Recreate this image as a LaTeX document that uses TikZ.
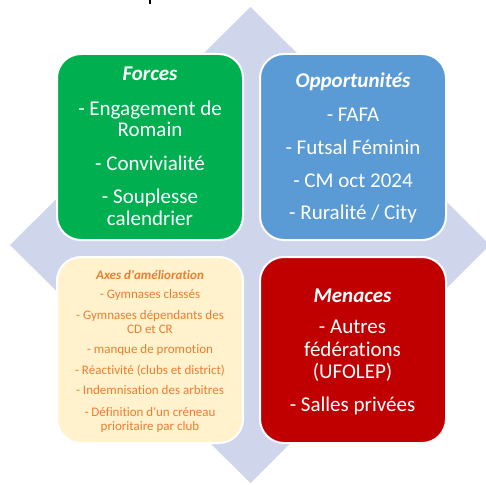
\documentclass[tikz,border=0pt]{standalone}
\usepackage{fontspec}
\setmainfont{Carlito}[Ligatures={TeXOff,NoCommon}]
\definecolor{diamondc}{HTML}{CFD5EA}
\definecolor{forcegreen}{HTML}{00B050}
\definecolor{oppblue}{HTML}{5B9BD5}
\definecolor{menred}{HTML}{C00000}
\definecolor{axeyellow}{HTML}{FFF2CC}
\definecolor{axeorange}{HTML}{ED7D31}
\tikzset{
  swotbox/.style={draw=white, line width=2pt, rounded corners=24pt,
    minimum width=186pt, minimum height=186pt, inner sep=0pt},
  bigln/.style={anchor=base, inner sep=0pt, text=white, font=\fontsize{21}{21}\selectfont},
  bigtitle/.style={bigln, font=\fontsize{21}{21}\selectfont\bfseries\itshape},
  smallln/.style={anchor=base, inner sep=0pt, text=axeorange, font=\fontsize{13}{13}\selectfont},
  smalltitle/.style={smallln, font=\fontsize{13}{13}\selectfont\bfseries\itshape}
}
\begin{document}
\begin{tikzpicture}[x=1pt,y=-1pt]
\useasboundingbox (0,0) rectangle (486,484);
\fill[white] (0,0) rectangle (486,484);
% background diamond
\fill[diamondc] (250.5,7) -- (490,245) -- (250.5,483) -- (10,245) -- cycle;
% cut-off descender at top
\draw[line width=1.5pt] (150,0) -- (150,4);
% boxes
\node[swotbox, fill=forcegreen] (forces) at (150,147) {};
\node[swotbox, fill=oppblue] (opps) at (353,147) {};
\node[swotbox, fill=axeyellow] (axes) at (150,350) {};
\node[swotbox, fill=menred] (menaces) at (353,350) {};
% Forces
\node[bigtitle] (f0) at (150,81) {Forces};
\node[bigln] (f1) at (150,115) {- Engagement de};
\node[bigln] (f2) at (150,136) {Romain};
\node[bigln] (f3) at (150,170) {- Convivialité};
\node[bigln] (f4) at (150,203) {- Souplesse};
\node[bigln] (f5) at (150,225) {calendrier};
% Opportunites
\node[bigtitle] (o0) at (353,88) {Opportunités};
\node[bigln] (o1) at (353,121) {- FAFA};
\node[bigln] (o2) at (353,154) {- Futsal Féminin};
\node[bigln] (o3) at (353,187) {- CM oct 2024};
\node[bigln] (o4) at (353,219) {- Ruralité / City};
% Menaces
\node[bigtitle] (m0) at (352.5,302) {Menaces};
\node[bigln] (m1) at (352.5,333) {- Autres};
\node[bigln] (m2) at (352.5,356) {fédérations};
\node[bigln] (m3) at (352.5,378) {(UFOLEP)};
\node[bigln] (m4) at (352.5,411) {- Salles privées};
% Axes d'amelioration
\node[smalltitle] (a0) at (150,279) {Axes d'amélioration};
\node[smallln] (a1) at (150,298) {- Gymnases classés};
\node[smallln] (a2) at (150,319) {- Gymnases dépendants des};
\node[smallln] (a3) at (150,333) {CD et CR};
\node[smallln] (a4) at (150,353) {- manque de promotion};
\node[smallln] (a5) at (150,374) {- Réactivité (clubs et district)};
\node[smallln] (a6) at (150,394) {- Indemnisation des arbitres};
\node[smallln] (a7) at (150,416) {- Définition d'un créneau};
\node[smallln] (a8) at (150,430) {prioritaire par club};
\end{tikzpicture}
\end{document}
